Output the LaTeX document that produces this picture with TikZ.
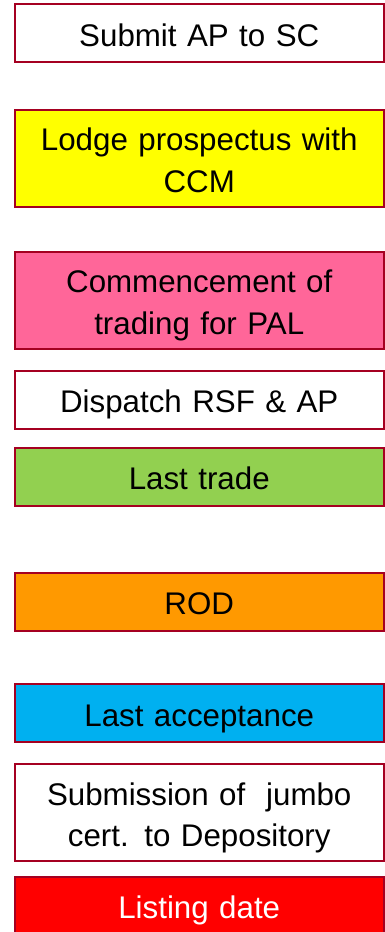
\documentclass[tikz,border=0pt]{standalone}
\usepackage{fontspec}
\setmainfont{Liberation Sans}
\definecolor{boxline}{HTML}{A50021}
\definecolor{lodgeyellow}{HTML}{FFFF00}
\definecolor{palpink}{HTML}{FF6699}
\definecolor{tradegreen}{HTML}{92D050}
\definecolor{rodorange}{HTML}{FF9900}
\definecolor{acceptcyan}{HTML}{00B0F0}
\definecolor{listred}{HTML}{FF0000}
\newcommand{\stagestrut}{\rule[-7.4pt]{0pt}{41.4pt}}
\tikzset{
  stagebox/.style={draw=boxline, line width=2pt, minimum width=368.5pt,
    text width=360pt, align=center, inner sep=0pt,
    font=\fontsize{31.3}{41.5}\selectfont,
    execute at begin node=\stagestrut, execute at end node=\stagestrut},
  oneline/.style={stagebox, minimum height=58pt},
  twoline/.style={stagebox, minimum height=97pt}
}
\begin{document}
\begin{tikzpicture}[x=1pt, y=-1pt]
    \useasboundingbox (0,0) rectangle (385,932);

    % Preparation
    \node[oneline, fill=white] (submit) at (199.25, 33) {Submit AP to SC};
    \node[twoline, fill=lodgeyellow] (lodge) at (199.25, 158) {Lodge prospectus with\\CCM};

    % Trading period
    \node[twoline, fill=palpink] (commence) at (199.25, 300) {Commencement of\\trading for PAL};
    \node[oneline, fill=white] (dispatch) at (199.25, 399.5) {Dispatch RSF \& AP};
    \node[oneline, fill=tradegreen] (lasttrade) at (199.25, 476.5) {Last trade};

    % Acceptance
    \node[oneline, fill=rodorange] (rod) at (199.25, 601.5) {ROD};
    \node[oneline, fill=acceptcyan] (lastaccept) at (199.25, 713) {Last acceptance};

    % Listing
    \node[twoline, fill=white] (jumbo) at (199.25, 812.5) {Submission of\ \ jumbo\\cert. to Depository};
    \node[oneline, fill=listred, text=white] (listing) at (199.25, 905.5) {Listing date};
\end{tikzpicture}
\end{document}
